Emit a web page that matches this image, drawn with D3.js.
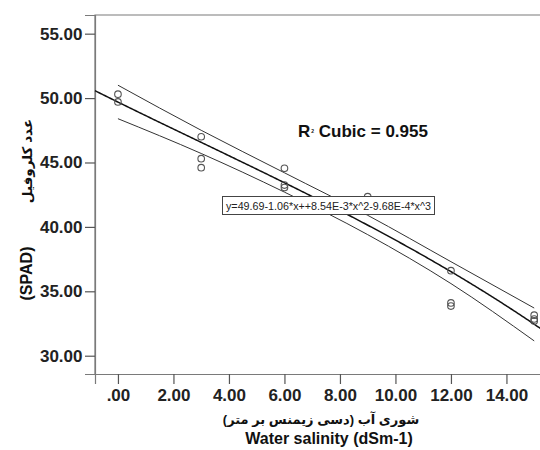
<!DOCTYPE html>
<html><head><meta charset="utf-8">
<script src="https://cdn.jsdelivr.net/npm/d3@7/dist/d3.min.js"></script>
<style>
body{margin:0;background:#fff;}
text{font-family:"Liberation Sans",Arial,"DejaVu Sans",sans-serif;}
</style></head>
<body><svg id="c" width="540" height="450"></svg>
<script>
// ---- data ----
const salinity = [0,0, 3,3,3, 6,6,6, 9, 12,12,12, 15,15,15];
const spad     = [50.3,49.7, 47.0,45.3,44.6, 44.55,43.25,43.05, 42.35, 36.6,34.1,33.85, 33.15,32.85,32.7];
const coef = [49.69, -1.06, 8.54e-3, -9.68e-4];   // displayed cubic equation
const bandX     = [0, 3, 6, 9, 12, 15];
const bandUpper = [51.0, 47.5, 44.2, 40.9, 37.3, 33.7];
const bandLower = [48.4, 45.7, 42.7, 39.4, 35.6, 31.15];
const xTicks = [0,2,4,6,8,10,12,14];
const xTickLabels = [".00","2.00","4.00","6.00","8.00","10.00","12.00","14.00"];
const yTicks = [30,35,40,45,50,55];
const yTickLabels = ["30.00","35.00","40.00","45.00","50.00","55.00"];
const fitLabel = "y=49.69-1.06*x++8.54E-3*x^2-9.68E-4*x^3";

const svg = d3.select("#c");
const L=95, T=15, R=560, B=374;
const x = d3.scaleLinear().domain([-0.827, 15.93]).range([L, R]);
const y = d3.scaleLinear().domain([28.58, 56.45]).range([B, T]);

// frame
svg.append("path").attr("d",`M${L},${B}V${T}H${R}`).attr("fill","none").attr("stroke","#7a7a7a").attr("stroke-width",1.2);

// axes
const xa = svg.append("g").attr("transform",`translate(0,${B})`)
  .call(d3.axisBottom(x).tickValues(xTicks).tickFormat((d,i)=>xTickLabels[i]).tickSize(10).tickPadding(5));
const ya = svg.append("g").attr("transform",`translate(${L},0)`)
  .call(d3.axisLeft(y).tickValues(yTicks).tickFormat((d,i)=>yTickLabels[i]).tickSize(10).tickPadding(2.5));
[xa,ya].forEach(g=>{
  g.select(".domain").attr("stroke","#7a7a7a").attr("stroke-width",1.2);
  g.selectAll(".tick line").attr("stroke","#555").attr("stroke-width",1.2);
  g.selectAll(".tick text").attr("fill","#222").style("font-size","17px").style("font-weight","bold");
});

// bands
const bl = d3.line().x(d=>x(d[0])).y(d=>y(d[1])).curve(d3.curveMonotoneX);
svg.append("path").attr("d",bl(bandX.map((v,i)=>[v,bandUpper[i]]))).attr("fill","none").attr("stroke","#333").attr("stroke-width",1);
svg.append("path").attr("d",bl(bandX.map((v,i)=>[v,bandLower[i]]))).attr("fill","none").attr("stroke","#333").attr("stroke-width",1);

// fit
const f = v => coef[0]+coef[1]*v+coef[2]*v*v+coef[3]*v*v*v;
const fx = d3.range(-0.827, 15.95, 0.05);
svg.append("path").attr("d",d3.line().x(d=>x(d)).y(d=>y(f(d)))(fx)).attr("fill","none").attr("stroke","#111").attr("stroke-width",1.5);

// points
svg.append("g").selectAll("circle").data(salinity).join("circle")
  .attr("cx",d=>x(d)).attr("cy",(d,i)=>y(spad[i])).attr("r",3.3)
  .attr("fill","none").attr("stroke","#555").attr("stroke-width",1.1);

// equation box
svg.append("rect").attr("x",222.5).attr("y",196.5).attr("width",212).attr("height",18)
  .attr("fill","#fff").attr("stroke","#444").attr("stroke-width",1);
svg.append("text").attr("x",226).attr("y",209.5).attr("textLength",205).attr("lengthAdjust","spacingAndGlyphs")
  .style("font-size","10.5px").attr("fill","#222").text(fitLabel);

// R2 label
const rt = svg.append("text").attr("x",298).attr("y",137).style("font-size","17px").style("font-weight","bold").attr("fill","#111");
rt.append("tspan").text("R");
rt.append("tspan").style("font-size","5px").attr("dx",1).attr("dy",-4).text("2");
rt.append("tspan").attr("dy",4).text(" Cubic = 0.955");

// x axis titles
svg.append("text").attr("x",321).attr("y",424).attr("text-anchor","middle").style("font-size","13px").style("font-weight","bold").attr("fill","#111")
  .attr("direction","rtl").text("شوری آب (دسی زیمنس بر متر)");
svg.append("text").attr("x",329).attr("y",444).attr("text-anchor","middle").style("font-size","16px").style("font-weight","bold").attr("fill","#111")
  .text("Water salinity (dSm-1)");

// y axis titles
svg.append("text").attr("transform","translate(32,273.5) rotate(-90)").attr("text-anchor","middle").style("font-size","16px").style("font-weight","bold").attr("fill","#111").text("(SPAD)");
svg.append("text").attr("transform","translate(32,161) rotate(-90)").attr("text-anchor","middle").style("font-size","13.5px").style("font-weight","bold").attr("fill","#111").text("عدد کلروفیل");
</script></body></html>
